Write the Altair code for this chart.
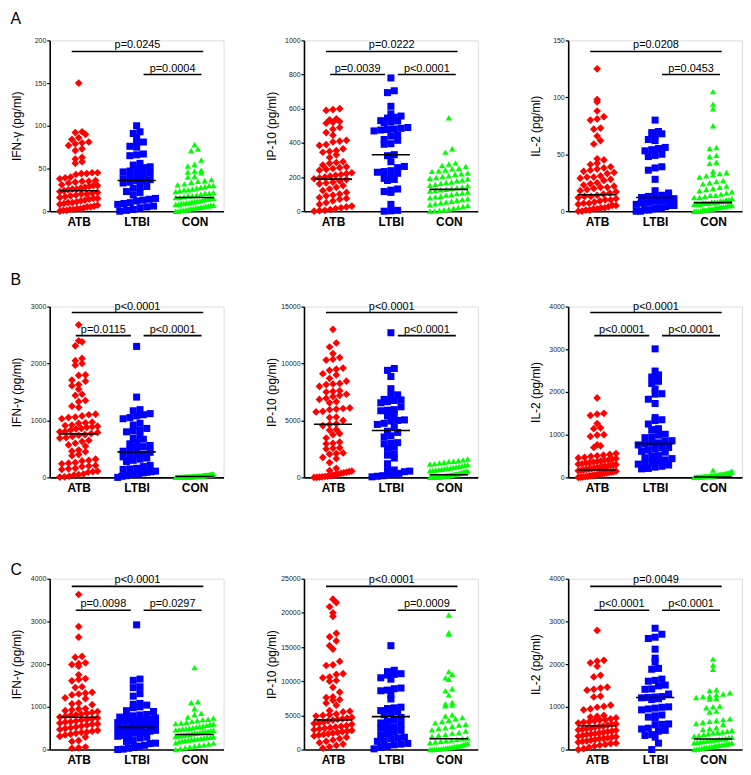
import altair as alt
import pandas as pd

GROUPS = ["ATB", "LTBI", "CON"]
COLORS = ["#ff0000", "#0000ff", "#00ff00"]
SHAPES = ["diamond", "square", "triangle-up"]
ROW_LETTERS = ["A", "B", "C"]
Y_TITLES = ["IFN-γ (pg/ml)", "IP-10 (pg/ml)", "IL-2 (pg/ml)"]
Y_MAX = {"A": [200, 1000, 150], "B": [3000, 15000, 4000], "C": [4000, 25000, 4000]}
Y_STEP = {"A": [50, 200, 50], "B": [1000, 5000, 1000], "C": [1000, 5000, 1000]}

# ---------------- Row A ----------------
A_IFNG_ATB = [150, 93, 92, 90, 86, 84, 81, 80, 79, 77, 73, 71, 63, 61, 58, 56, 45, 45, 44, 44,
              43, 40, 39, 38, 36, 35, 35, 34, 33, 31, 30, 30, 29, 28, 27, 26, 26, 25, 24, 23,
              22, 21, 20, 20, 19, 18, 17, 16, 15, 15, 14, 13, 12, 11, 10, 10, 9, 8, 7, 6,
              5, 5, 4, 3, 3, 2, 2, 1, 1, 0]
A_IFNG_LTBI = [100, 93, 91, 86, 81, 80, 76, 75, 67, 66, 65, 56, 54, 52, 51, 50, 47, 46, 45, 44,
               42, 41, 38, 37, 36, 36, 34, 33, 29, 28, 27, 23, 22, 19, 15, 14, 13, 12, 10, 9,
               8, 6, 5, 4, 2, 1, 0]
A_IFNG_CON = [78, 73, 71, 60, 55, 53, 48, 47, 46, 45, 41, 40, 37, 36, 35, 34, 32, 31, 30, 30,
              29, 28, 27, 26, 25, 25, 24, 23, 22, 21, 21, 20, 19, 18, 18, 17, 16, 16, 15, 15,
              14, 14, 13, 12, 12, 11, 11, 10, 10, 9, 9, 8, 8, 7, 7, 6, 6, 5, 5, 4,
              4, 3, 3, 2, 2, 1, 1, 0, 0]
A_IP10_ATB = [600, 595, 590, 540, 535, 525, 520, 515, 490, 480, 460, 445, 415, 410, 405, 390, 385,
              365, 355, 350, 345, 330, 315, 290, 285, 280, 270, 260, 255, 250, 245, 240, 225, 220,
              215, 210, 205, 200, 195, 190, 185, 178, 170, 165, 160, 150, 140, 130, 120, 110, 100,
              95, 90, 80, 75, 70, 60, 50, 40, 30, 25, 20, 15, 10, 5, 3, 0]
A_IP10_LTBI = [780, 705, 694, 614, 570, 557, 550, 545, 530, 528, 522, 518, 490, 485, 481, 478, 475,
               470, 443, 440, 420, 415, 395, 392, 331, 325, 290, 262, 255, 237, 232, 228, 222, 200,
               192, 186, 180, 130, 123, 115, 110, 40, 5, 2, 0]
A_IP10_CON = [547, 366, 346, 283, 276, 268, 262, 251, 248, 241, 236, 233, 224, 219, 216, 208, 204,
              197, 193, 188, 182, 179, 171, 168, 163, 157, 152, 149, 141, 138, 133, 129, 126, 121,
              118, 112, 107, 103, 98, 94, 88, 84, 79, 73, 69, 64, 58, 53, 49, 44, 38, 33, 27, 22,
              17, 12, 8, 4, 1, 0]
A_IL2_ATB = [125, 98, 96, 88, 83, 81, 80, 73, 72, 66, 62, 59, 46, 45, 42, 41, 39, 38, 37, 36, 35,
             34, 33, 31, 30, 30, 29, 28, 27, 25, 24, 23, 22, 21, 21, 20, 19, 18, 17, 16, 15, 14,
             13, 13, 12, 11, 10, 10, 9, 8, 7, 7, 6, 5, 5, 4, 3, 3, 2, 2, 1, 1, 0, 0]
A_IL2_LTBI = [80, 70, 69, 68, 67, 63, 62, 56, 55, 54, 53, 50, 49, 48, 39, 38, 36, 28, 18, 16, 14,
              13, 13, 12, 11, 11, 10, 9, 9, 8, 7, 7, 6, 5, 5, 4, 3, 3, 2, 1, 1, 0, 0]
A_IL2_CON = [105, 94, 90, 75, 56, 55, 49, 48, 43, 42, 35, 34, 33, 32, 31, 30, 27, 26, 25, 24, 22,
             21, 20, 19, 18, 17, 16, 15, 14, 14, 13, 12, 12, 11, 10, 10, 9, 9, 8, 8, 8, 7, 7, 7,
             6, 6, 6, 5, 5, 5, 4, 4, 4, 3, 3, 3, 2, 2, 2, 1, 1, 1, 0, 0, 0, 0]

# ---------------- Row B ----------------
B_IFNG_ATB = [2680, 2400, 2380, 2310, 2090, 2050, 2000, 1970, 1800, 1790, 1710, 1690, 1630, 1610,
              1550, 1460, 1440, 1350, 1330, 1250, 1230, 1110, 1100, 1080, 1060, 1050, 1030, 970,
              960, 950, 920, 910, 900, 890, 880, 860, 850, 830, 810, 800, 790, 770, 750, 740, 720,
              700, 690, 650, 630, 600, 570, 550, 480, 460, 450, 400, 380, 320, 300, 290, 260, 250,
              240, 210, 200, 190, 160, 150, 140, 110, 100, 90, 60, 50, 40, 20, 10, 5]
B_IFNG_LTBI = [2300, 1410, 1190, 1170, 1120, 1100, 1080, 1050, 1030, 950, 920, 860, 830, 820, 800,
               720, 690, 670, 610, 590, 560, 540, 510, 490, 460, 440, 410, 400, 380, 360, 340, 320,
               300, 280, 210, 190, 160, 150, 140, 110, 100, 90, 80, 70, 60, 50, 30, 20, 0]
B_IFNG_CON = [60, 55, 52, 50, 48, 45, 44, 42, 40, 39, 38, 36, 35, 34, 33, 32, 30, 29, 28, 27, 26,
              25, 24, 23, 22, 21, 20, 20, 19, 18, 17, 16, 15, 15, 14, 13, 12, 12, 11, 10, 10, 9,
              8, 8, 7, 6, 6, 5, 5, 4, 4, 3, 3, 2, 2, 1, 1, 0, 0, 0]
B_IP10_ATB = [13000, 11800, 11450, 10870, 10520, 10380, 10300, 9600, 9500, 9400, 9100, 9000, 8700,
              8450, 8250, 8200, 8150, 8000, 7600, 7550, 7500, 7300, 7200, 7100, 6950, 6850, 6650,
              6550, 6100, 6050, 6000, 5950, 5800, 5750, 5300, 5250, 5000, 4700, 4650, 4550, 4200,
              4150, 3850, 3750, 3450, 3100, 3000, 2950, 2600, 2550, 2500, 2150, 2100, 2050, 1750,
              1650, 1300, 800, 600, 550, 500, 450, 400, 350, 300, 250, 200, 150, 100, 80, 50, 30,
              10, 0]
B_IP10_LTBI = [12700, 9560, 9400, 8860, 7790, 7250, 7200, 6850, 6800, 6750, 6650, 6550, 6200, 5950,
               5900, 5850, 5500, 5400, 5050, 5000, 4950, 4750, 4650, 4400, 4050, 3950, 3650, 3550,
               3050, 3000, 2950, 2650, 2550, 2050, 1950, 1700, 1200, 650, 600, 550, 500, 350, 300,
               250, 150, 100, 50]
B_IP10_CON = [1620, 1540, 1480, 1420, 1390, 1330, 1270, 1210, 1180, 1120, 1060, 1010, 970, 920, 880,
              830, 790, 760, 720, 680, 650, 610, 580, 550, 520, 490, 460, 430, 410, 380, 360, 340,
              310, 290, 270, 250, 230, 210, 200, 180, 160, 150, 130, 120, 100, 90, 80, 70, 60, 50,
              40, 30, 20, 15, 10, 5, 2, 0]
B_IL2_ATB = [1860, 1500, 1480, 1450, 1260, 1160, 1140, 1000, 990, 960, 760, 740, 700, 560, 540, 520,
             505, 490, 470, 455, 440, 425, 410, 400, 385, 370, 360, 345, 335, 320, 310, 300, 285,
             275, 265, 255, 245, 235, 225, 215, 205, 195, 185, 175, 165, 155, 145, 135, 125, 115,
             105, 95, 85, 75, 65, 55, 45, 35, 25, 15, 10, 5, 0]
B_IL2_LTBI = [3010, 2490, 2400, 2350, 2250, 2200, 2070, 1960, 1950, 1830, 1730, 1400, 1350, 1330,
              1250, 1140, 1120, 1010, 990, 950, 930, 860, 840, 810, 800, 780, 760, 700, 690, 660,
              640, 610, 590, 510, 490, 460, 440, 410, 390, 360, 340, 310, 290, 260, 240, 210, 200]
B_IL2_CON = [170, 150, 120, 110, 100, 95, 90, 85, 80, 75, 70, 65, 60, 55, 50, 48, 45, 42, 40, 38,
             35, 33, 30, 28, 25, 23, 20, 18, 15, 13, 10, 8, 5, 3, 0]

# ---------------- Row C ----------------
C_IFNG_ATB = [3630, 2880, 2630, 2180, 2160, 2030, 2010, 1990, 1950, 1750, 1660, 1640, 1610, 1470,
              1450, 1340, 1320, 1300, 1280, 1210, 1190, 1090, 1070, 1050, 960, 950, 930, 910, 890,
              870, 850, 830, 810, 800, 780, 760, 740, 720, 700, 690, 670, 650, 640, 620, 600, 590,
              570, 550, 530, 510, 490, 470, 450, 430, 410, 400, 380, 360, 340, 310, 290, 210, 190,
              60, 40, 30]
C_IFNG_LTBI = [2920, 1650, 1620, 1470, 1450, 1310, 1250, 1080, 1060, 1040, 1000, 980, 910, 890, 820,
               810, 790, 780, 760, 740, 720, 700, 690, 670, 650, 630, 600, 590, 570, 560, 540, 520,
               500, 490, 470, 450, 430, 410, 400, 380, 350, 330, 310, 290, 270, 210, 190, 150, 140,
               100, 80, 50, 30, 10, 0]
C_IFNG_CON = [1920, 1120, 1100, 960, 850, 820, 760, 740, 710, 700, 680, 660, 640, 620, 610, 600, 590,
              570, 550, 540, 530, 510, 500, 490, 480, 470, 460, 450, 440, 430, 420, 410, 400, 390,
              380, 370, 360, 350, 340, 330, 320, 310, 300, 290, 280, 270, 260, 250, 240, 230, 220,
              210, 200, 180, 160, 150, 130, 110, 100, 80, 60, 40, 20, 0]
C_IP10_ATB = [22000, 21500, 20900, 20000, 19500, 17000, 16500, 15900, 15200, 14700, 12900, 12400,
              12300, 11100, 11000, 10600, 10500, 10100, 10000, 9100, 8400, 7700, 7600, 7300, 7200,
              6800, 6500, 5700, 5600, 5500, 5200, 5100, 5000, 4900, 4700, 4600, 4500, 4400, 4300,
              4200, 4000, 3900, 3800, 3700, 3500, 3400, 3300, 3200, 3100, 3000, 2900, 2800, 2700,
              2600, 2500, 2400, 2300, 2200, 2100, 2000, 1800, 1600, 1400, 1200, 1000, 800, 600,
              400, 200]
C_IP10_LTBI = [15200, 11600, 11400, 11100, 11000, 10900, 10500, 10300, 9000, 8900, 8700, 8600, 8000,
               7400, 6200, 6100, 6000, 5700, 5500, 5300, 5100, 4700, 4300, 4100, 3900, 3700, 3300,
               3200, 3100, 2800, 2600, 2300, 2100, 1800, 1700, 1600, 1300, 1200, 900, 800, 700, 500,
               300, 100]
C_IP10_CON = [19700, 17100, 16900, 11400, 11000, 10500, 10300, 8900, 8600, 8000, 6900, 6700, 6500,
              6400, 5100, 4900, 4700, 4500, 4300, 4100, 3900, 3700, 3600, 3400, 3200, 3100, 2900,
              2700, 2500, 2400, 2200, 2100, 1900, 1700, 1600, 1500, 1400, 1300, 1200, 1100, 1000,
              900, 800, 700, 600, 500, 450, 400, 350, 300, 250, 200, 150, 100, 80, 60, 40, 20, 0]
C_IL2_ATB = [2790, 2090, 2070, 2030, 1950, 1740, 1700, 1460, 1440, 1410, 1390, 1250, 1230, 1040,
             1010, 990, 950, 930, 800, 780, 760, 740, 720, 700, 690, 670, 650, 640, 620, 600, 590,
             570, 550, 540, 520, 500, 490, 470, 460, 450, 430, 420, 400, 390, 370, 360, 350, 330,
             310, 300, 290, 270, 260, 250, 230, 220, 200, 190, 170, 150, 140, 120, 100, 80, 50,
             20, 0]
C_IL2_LTBI = [2840, 2700, 2630, 2600, 2350, 2140, 2050, 1900, 1880, 1650, 1620, 1600, 1510, 1490,
              1420, 1410, 1300, 1240, 1230, 1220, 1210, 1190, 1170, 1000, 990, 970, 950, 930, 810,
              790, 760, 740, 600, 590, 580, 500, 480, 450, 430, 350, 330, 290, 150, 0]
C_IL2_CON = [2120, 1980, 1880, 1400, 1380, 1330, 1300, 1280, 1250, 1240, 1220, 1200, 1180, 1020,
             1000, 980, 900, 880, 720, 700, 680, 660, 640, 610, 590, 510, 490, 470, 450, 430, 410,
             400, 390, 370, 350, 330, 310, 290, 280, 260, 250, 240, 230, 220, 210, 200, 190, 180,
             170, 160, 150, 140, 130, 120, 110, 100, 90, 80, 70, 60, 50, 40, 30, 20, 10, 0]

DATA = {
    "A": [[A_IFNG_ATB, A_IFNG_LTBI, A_IFNG_CON], [A_IP10_ATB, A_IP10_LTBI, A_IP10_CON],
          [A_IL2_ATB, A_IL2_LTBI, A_IL2_CON]],
    "B": [[B_IFNG_ATB, B_IFNG_LTBI, B_IFNG_CON], [B_IP10_ATB, B_IP10_LTBI, B_IP10_CON],
          [B_IL2_ATB, B_IL2_LTBI, B_IL2_CON]],
    "C": [[C_IFNG_ATB, C_IFNG_LTBI, C_IFNG_CON], [C_IP10_ATB, C_IP10_LTBI, C_IP10_CON],
          [C_IL2_ATB, C_IL2_LTBI, C_IL2_CON]],
}

# medians (ATB, LTBI, CON) per panel
MEDIANS = {
    "A": [[24, 36, 16], [188, 330, 128], [14.5, 12, 7.5]],
    "B": [[764, 448, 15], [4670, 4120, 230], [176, 790, 10]],
    "C": [[758, 520, 352], [4345, 4820, 1580], [556, 1220, 245]],
}

# significance brackets: (from group, to group, label)
BRACKETS = {
    "A": [[(0, 2, "p=0.0245"), (1, 2, "p=0.0004")],
          [(0, 2, "p=0.0222"), (0, 1, "p=0.0039"), (1, 2, "p<0.0001")],
          [(0, 2, "p=0.0208"), (1, 2, "p=0.0453")]],
    "B": [[(0, 2, "p<0.0001"), (0, 1, "p=0.0115"), (1, 2, "p<0.0001")],
          [(0, 2, "p<0.0001"), (1, 2, "p<0.0001")],
          [(0, 2, "p<0.0001"), (0, 1, "p<0.0001"), (1, 2, "p<0.0001")]],
    "C": [[(0, 2, "p<0.0001"), (0, 1, "p=0.0098"), (1, 2, "p=0.0297")],
          [(0, 2, "p<0.0001"), (1, 2, "p=0.0009")],
          [(0, 2, "p=0.0049"), (0, 1, "p<0.0001"), (1, 2, "p<0.0001")]],
}

# ---------------- layout / style ----------------
W, H = 175, 172
FONT = "Liberation Sans"
LEVEL_FRAC = {"A": (0.935, 0.80), "B": (0.965, 0.83), "C": (0.955, 0.815)}


def swarm_offsets(values, ymax):
    """Deterministic beeswarm: spread points sharing a ~marker-height band."""
    binsize = ymax * 6.5 / H
    step_px = W / 3.0
    order = sorted(range(len(values)), key=lambda i: values[i])
    bins = {}
    for i in order:
        bins.setdefault(int(values[i] // binsize), []).append(i)
    offs = [0.0] * len(values)
    for members in bins.values():
        n = len(members)
        sp = 6.8 if n <= 1 else min(6.8, 38.0 / (n - 1))
        for k, i in enumerate(members):
            offs[i] = (k - (n - 1) / 2.0) * sp / step_px
    return offs


def panel(row, col):
    ymax = Y_MAX[row][col]
    ystep = Y_STEP[row][col]
    xs = alt.Scale(domain=[0, 3], nice=False, zero=False)
    ys = alt.Scale(domain=[0, ymax], nice=False, zero=True)
    xax = alt.Axis(
        values=[0.5, 1.5, 2.5], labelExpr="['ATB','LTBI','CON'][floor(datum.value)]",
        ticks=False, grid=False, domainColor="black", domainWidth=1.6, labelFontSize=12,
        labelFontWeight="bold", labelColor="black", labelPadding=5, title=None,
        labelFont=FONT)
    yax = alt.Axis(
        values=list(range(0, ymax + 1, ystep)), format="d", grid=False, tickSize=3,
        tickColor="black", tickWidth=1.2, domainColor="black", domainWidth=1.6,
        labelFontSize=7, labelColor="#222222", labelFont=FONT, labelPadding=1,
        title=Y_TITLES[col], titleFontSize=12, titleFontWeight="normal", titleColor="black",
        titleFont=FONT, titlePadding=2, minExtent=24, maxExtent=24)

    recs = []
    for gi, g in enumerate(GROUPS):
        vals = DATA[row][col][gi]
        for v, o in zip(vals, swarm_offsets(vals, ymax)):
            recs.append({"group": g, "value": v, "xp": gi + 0.5 + o})
    pts = alt.Chart(pd.DataFrame(recs)).mark_point(filled=True, opacity=1, strokeWidth=0).encode(
        x=alt.X("xp:Q", scale=xs, axis=xax),
        y=alt.Y("value:Q", scale=ys, axis=yax),
        color=alt.Color("group:N", scale=alt.Scale(domain=GROUPS, range=COLORS), legend=None),
        shape=alt.Shape("group:N", scale=alt.Scale(domain=GROUPS, range=SHAPES), legend=None),
        size=alt.Size("group:N", scale=alt.Scale(domain=GROUPS, range=[60, 40, 42]), legend=None),
    )

    med = pd.DataFrame([{"x1": gi + 0.5 - 0.33, "x2": gi + 0.5 + 0.33, "m": MEDIANS[row][col][gi]}
                        for gi in range(3)])
    med_layer = alt.Chart(med).mark_rule(color="black", strokeWidth=1.6).encode(
        x=alt.X("x1:Q", scale=xs, axis=xax), x2="x2:Q",
        y=alt.Y("m:Q", scale=ys, axis=yax))

    top_f, low_f = LEVEL_FRAC[row]
    brs = []
    for a, b, lab in BRACKETS[row][col]:
        if b - a == 2:
            x1, x2, yv = a + 0.5 - 0.12, b + 0.5 + 0.15, top_f * ymax
        elif a == 0:
            x1, x2, yv = a + 0.5 - 0.05, b + 0.5 - 0.10, low_f * ymax
        else:
            x1, x2, yv = a + 0.5 + 0.12, b + 0.5 + 0.12, low_f * ymax
        brs.append({"x1": x1, "x2": x2, "xm": (x1 + x2) / 2, "y": yv, "label": lab})
    brdf = pd.DataFrame(brs)
    br_rule = alt.Chart(brdf).mark_rule(color="black", strokeWidth=1.6).encode(
        x=alt.X("x1:Q", scale=xs, axis=xax), x2="x2:Q",
        y=alt.Y("y:Q", scale=ys, axis=yax))
    br_text = alt.Chart(brdf).mark_text(baseline="bottom", align="center", dy=-1, fontSize=11,
                                        font=FONT, color="black").encode(
        x=alt.X("xm:Q", scale=xs, axis=xax), y=alt.Y("y:Q", scale=ys, axis=yax),
        text="label:N")
    return alt.layer(pts, med_layer, br_rule, br_text).properties(width=W, height=H)


TITLE_OFFSET = {"A": 9, "B": 12, "C": -4}


def row_chart(row):
    p = [panel(row, c) for c in range(3)]
    return alt.hconcat(alt.hconcat(p[0], p[1], spacing=40), p[2], spacing=50).properties(
        title=alt.TitleParams(text=row, anchor="start", fontSize=16, fontWeight="normal",
                              font=FONT, color="black", offset=TITLE_OFFSET[row]))


chart = alt.vconcat(
    alt.vconcat(row_chart("A"), row_chart("B"), spacing=44),
    row_chart("C"), spacing=68,
).properties(padding={"left": 2, "top": 0, "right": 0, "bottom": 0}).configure_view(
    strokeWidth=0).configure(font=FONT)

chart.save("out.html", embed_options={"renderer": "svg", "actions": False})
